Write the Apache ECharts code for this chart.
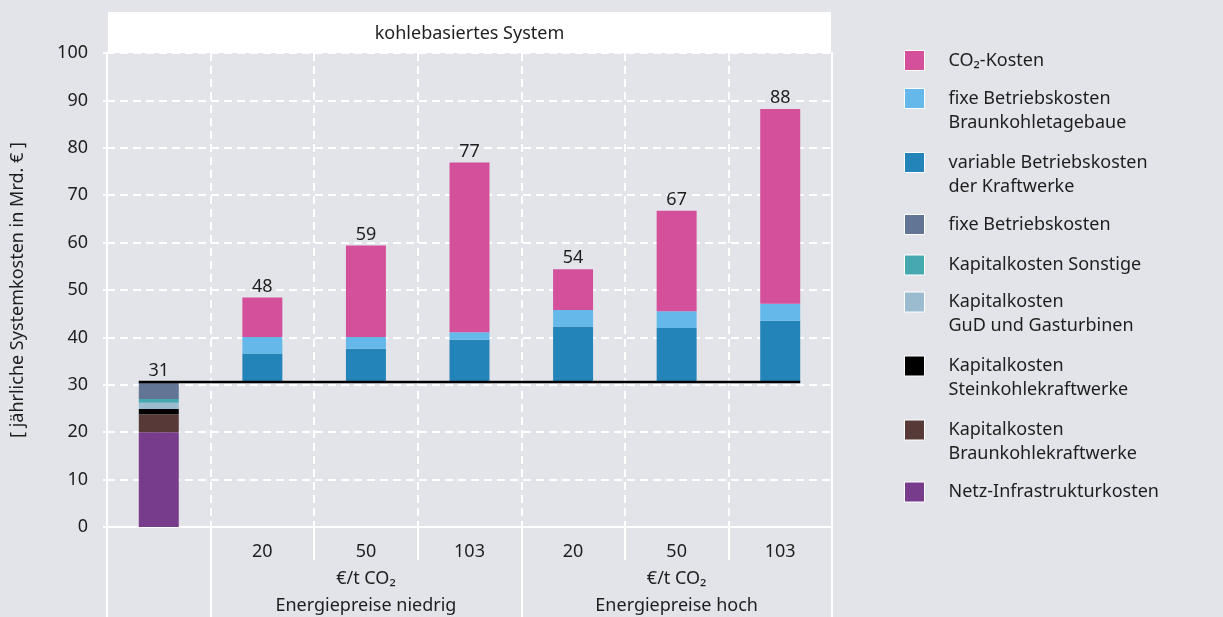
<!DOCTYPE html>
<html><head><meta charset="utf-8">
<script src="https://cdn.jsdelivr.net/npm/echarts@6/dist/echarts.min.js"></script>
<style>html,body{margin:0;padding:0;background:#e3e4ea;} #c{width:1223px;height:617px;}</style>
</head><body><div id="c"></div>
<script>
// ---------- data ----------
const categories = ['Ausgangsbasis', 'niedrig-20', 'niedrig-50', 'niedrig-103', 'hoch-20', 'hoch-50', 'hoch-103'];
const tickLabels = ['', '20', '50', '103', '20', '50', '103'];
const unitLabel = '€/t CO₂';
const groupLabels = ['Energiepreise niedrig', 'Energiepreise hoch'];
const groupLabelIndex = [2, 5];
const panelTitle = 'kohlebasiertes System';
const yAxisTitle = '[ jährliche Systemkosten in Mrd. € ]';
const yTicks = [0, 100, 10]; // min, max, step

// components of the first column (fixed system costs)
const netzInfra   = [20.0, 0, 0, 0, 0, 0, 0];
const kapBraun    = [3.8, 0, 0, 0, 0, 0, 0];
const kapStein    = [1.1, 0, 0, 0, 0, 0, 0];
const kapGuD      = [1.3, 0, 0, 0, 0, 0, 0];
const kapSonstige = [0.8, 0, 0, 0, 0, 0, 0];
const fixBetrieb  = [3.6, 0, 0, 0, 0, 0, 0];
// additional costs per scenario
const varBetrieb  = [0, 6.0, 7.0, 8.9, 11.7, 11.4, 12.9];
const fixTagebau  = [0, 3.5, 2.5, 1.6, 3.5, 3.5, 3.6];
const co2Kosten   = [0, 8.3, 19.3, 35.8, 8.6, 21.2, 41.1];

// ---------- derived ----------
const baseLevel = netzInfra[0] + kapBraun[0] + kapStein[0] + kapGuD[0] + kapSonstige[0] + fixBetrieb[0];
const baseOffset = categories.map((c, i) => i === 0 ? 0 : baseLevel);
const totals = categories.map((c, i) =>
  netzInfra[i] + kapBraun[i] + kapStein[i] + kapGuD[i] + kapSonstige[i] + fixBetrieb[i] +
  baseOffset[i] + varBetrieb[i] + fixTagebau[i] + co2Kosten[i]);

const FONT = 'Noto Sans';
const TXT = '#1e1e1e';
const WHITE = '#ffffff';
const barFrac = 0.386;
const edge = 0.5 - barFrac / 2;

const seriesDefs = [
  {name: 'Netz-Infrastrukturkosten', data: netzInfra, color: '#773c8b'},
  {name: 'Kapitalkosten\nBraunkohlekraftwerke', data: kapBraun, color: '#573a37'},
  {name: 'Kapitalkosten\nSteinkohlekraftwerke', data: kapStein, color: '#000000'},
  {name: 'Kapitalkosten\nGuD und Gasturbinen', data: kapGuD, color: '#9bbccf'},
  {name: 'Kapitalkosten Sonstige', data: kapSonstige, color: '#46a8b1'},
  {name: 'fixe Betriebskosten', data: fixBetrieb, color: '#627595'},
  {name: '_base', data: baseOffset, color: 'rgba(0,0,0,0)'},
  {name: 'variable Betriebskosten\nder Kraftwerke', data: varBetrieb, color: '#2384b9'},
  {name: 'fixe Betriebskosten\nBraunkohletagebaue', data: fixTagebau, color: '#64b9ea'},
  {name: 'CO₂-Kosten', data: co2Kosten, color: '#d4509a'}
];

const series = seriesDefs.map(d => {
  const s = {
    name: d.name, type: 'bar', stack: 'total', data: d.data, barWidth: (barFrac * 100) + '%',
    itemStyle: {color: d.color}, xAxisIndex: 0, yAxisIndex: 0
  };
  if (d.name === '_base') { s.silent = true; s.tooltip = {show: false}; }
  if (d.name === 'CO₂-Kosten') {
    s.label = {show: true, position: 'top', distance: 2, fontFamily: FONT, fontSize: 18, color: TXT,
      formatter: p => Math.round(totals[p.dataIndex])};
  }
  return s;
});
series.push({
  type: 'line', xAxisIndex: 2, yAxisIndex: 0, symbol: 'none', silent: true, z: 5,
  data: [[edge, baseLevel], [categories.length - edge, baseLevel]],
  lineStyle: {color: '#000', width: 2.5}
});

// legend: one component per entry so each can sit at its own position
const legendOrder = ['CO₂-Kosten', 'fixe Betriebskosten\nBraunkohletagebaue', 'variable Betriebskosten\nder Kraftwerke',
  'fixe Betriebskosten', 'Kapitalkosten Sonstige', 'Kapitalkosten\nGuD und Gasturbinen',
  'Kapitalkosten\nSteinkohlekraftwerke', 'Kapitalkosten\nBraunkohlekraftwerke', 'Netz-Infrastrukturkosten'];
const legendCenters = [60, 98.5, 162.5, 224, 264.5, 302, 366, 430, 491.5];
const legends = legendOrder.map((n, i) => {
  const two = n.indexOf('\n') >= 0;
  return {
    data: [n], left: 904, top: two ? legendCenters[i] - 36 : legendCenters[i] - 10,
    orient: 'vertical', padding: 0, itemWidth: 20, itemHeight: 20, icon: 'rect',
    itemStyle: {borderColor: WHITE, borderWidth: 1},
    // an empty leading line keeps the first text line level with the swatch
    formatter: name => (name.indexOf('\n') >= 0 ? ' \n' + name : name),
    textStyle: {fontFamily: FONT, fontSize: 18, color: TXT, lineHeight: two ? 24 : 20,
      padding: [0, 0, 0, 19]}
  };
});

const dashed = {color: WHITE, width: 2, type: [8, 5]};

const option = {
  backgroundColor: '#e3e4ea',
  animation: false,
  textStyle: {fontFamily: FONT},
  grid: {left: 107, right: 391, top: 53, bottom: 90, containLabel: false, outerBoundsMode: 'none'},
  legend: legends,
  graphic: [
    {type: 'rect', shape: {x: 108, y: 12, width: 723, height: 41}, style: {fill: WHITE}, z: 10},
    {type: 'text', x: 469.5, y: 34, z: 11, style: {text: panelTitle, fontFamily: FONT, fontSize: 18,
      fill: TXT, align: 'center', verticalAlign: 'middle'}}
  ],
  xAxis: [
    {
      type: 'category', data: categories, position: 'bottom',
      axisLine: {show: true, lineStyle: {color: WHITE, width: 2}},
      axisTick: {show: true, length: 33, interval: 0, lineStyle: {color: WHITE, width: 2}},
      splitLine: {show: true, interval: 0, lineStyle: dashed},
      axisLabel: {interval: 0, margin: 11, fontFamily: FONT, fontSize: 18, color: TXT, lineHeight: 27,
        formatter: (v, i) => {
          const g = groupLabelIndex.indexOf(i);
          return g >= 0 ? tickLabels[i] + '\n' + unitLabel + '\n' + groupLabels[g] : tickLabels[i];
        }}
    },
    {
      type: 'category', data: categories, position: 'bottom',
      axisLine: {show: false}, axisLabel: {show: false}, splitLine: {show: false},
      axisTick: {show: true, length: 90, interval: i => i === 0 || i === groupLabelIndex[0] - 1 || i === groupLabelIndex[1] - 1,
        lineStyle: {color: WHITE, width: 2}}
    },
    {type: 'value', min: 0, max: categories.length, show: false}
  ],
  yAxis: [
    {
      type: 'value', min: yTicks[0], max: yTicks[1], interval: yTicks[2],
      name: yAxisTitle, nameLocation: 'middle', nameGap: 80, nameRotate: 90,
      nameTextStyle: {fontFamily: FONT, fontSize: 18, color: TXT},
      axisLine: {show: true, lineStyle: {color: WHITE, width: 2}},
      axisTick: {show: true, length: 4, lineStyle: {color: WHITE, width: 2}},
      axisLabel: {margin: 19, fontFamily: FONT, fontSize: 18, color: TXT},
      splitLine: {show: true, lineStyle: dashed}
    },
    {
      type: 'value', min: yTicks[0], max: yTicks[1], interval: yTicks[2], position: 'right',
      axisLine: {show: true, lineStyle: {color: WHITE, width: 2}},
      axisTick: {show: false}, axisLabel: {show: false}, splitLine: {show: false}
    }
  ],
  series: series
};

const chart = echarts.init(document.getElementById('c'));
chart.setOption(option);
</script>
</body></html>
